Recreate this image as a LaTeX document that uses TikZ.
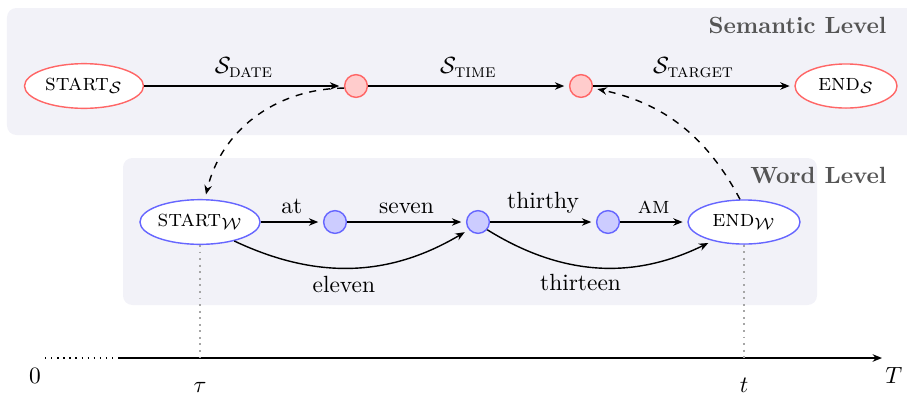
\documentclass[tikz,border=0pt]{standalone}
\usetikzlibrary{arrows.meta,positioning,shapes.geometric}
\definecolor{LevelBg}{HTML}{F2F2F8}
\definecolor{LevelText}{HTML}{555555}
\newcommand{\subsc}[1]{\mbox{\footnotesize\textsc{#1}}}

\begin{document}
\begin{tikzpicture}[
    >={Stealth[length=4pt,width=3.2pt]},
    semstate/.style={ellipse,draw=red!60,fill=white,semithick,minimum height=0.66cm,inner xsep=0pt},
    semnode/.style={circle,draw=red!60,fill=red!20,semithick,minimum size=9.7pt,inner sep=0pt},
    wordstate/.style={ellipse,draw=blue!60,fill=white,semithick,minimum height=0.66cm,inner xsep=0pt},
    wordnode/.style={circle,draw=blue!60,fill=blue!20,semithick,minimum size=9.7pt,inner sep=0pt},
    trans/.style={->,semithick,shorten >=2pt},
    link/.style={->,dashed,semithick,shorten >=2pt},
    levelbox/.style={fill=LevelBg,rounded corners=4pt},
    leveltitle/.style={font=\bfseries,text=LevelText,anchor=east},
    timemark/.style={dotted,gray!70,thick},
    tick/.style={text height=1.5ex,text depth=0pt}
  ]
  \useasboundingbox (0,0) rectangle (13.605,5.88);

  % level backgrounds
  \fill[levelbox] (0.105,3.855) rectangle (14.2,5.76);
  \fill[levelbox] (1.845,1.305) rectangle (12.255,3.51);
  \node[leveltitle] (semtitle) at (13.42,5.505) {Semantic Level};
  \node[leveltitle] (wordtitle) at (13.42,3.255) {Word Level};

  % semantic level
  \node[semstate,minimum width=1.785cm] (ss) at (1.26,4.59) {\textsc{start}$_{\mathcal{S}}$};
  \node[semnode] (s1) at (5.34,4.59) {};
  \node[semnode] (s2) at (8.715,4.59) {};
  \node[semstate,minimum width=1.53cm] (se) at (12.69,4.59) {\textsc{end}$_{\mathcal{S}}$};
  \draw[trans] (ss) -- node[above] {$\mathcal{S}_{\subsc{date}}$} (s1);
  \draw[trans] (s1) -- node[above] {$\mathcal{S}_{\subsc{time}}$} (s2);
  \draw[trans] (s2) -- node[above] {$\mathcal{S}_{\subsc{target}}$} (se);

  % word level
  \node[wordstate,minimum width=1.785cm] (sw) at (3.0,2.55) {\textsc{start}$_{\mathcal{W}}$};
  \node[wordnode] (w1) at (5.025,2.55) {};
  \node[wordnode] (w2) at (7.17,2.55) {};
  \node[wordnode] (w3) at (9.12,2.55) {};
  \node[wordstate,minimum width=1.68cm] (ew) at (11.16,2.55) {\textsc{end}$_{\mathcal{W}}$};
  \draw[trans] (sw) -- node[above] {at} (w1);
  \draw[trans] (w1) -- node[above] {seven} (w2);
  \draw[trans] (w2) -- node[above] {thirthy} (w3);
  \draw[trans] (w3) -- node[above] {\textsc{am}} (ew);
  \draw[trans] (sw.-29) to[bend right=28] node[below,pos=0.46] {eleven} (w2.220);
  \draw[trans] (w2.-40) to[bend right=29] node[below,pos=0.42] {thirteen} (ew.211);

  % links between levels
  \draw[link] (s1.190) to[bend right=38] (sw.78);
  \draw[link] (ew.100) to[bend right=25] (s2.-10);

  % time axis
  \coordinate (t0) at (0.675,0.51);
  \coordinate (t1) at (1.8,0.51);
  \coordinate (t2) at (11.895,0.51);
  \coordinate (tend) at (13.23,0.51);
  \draw[dotted,semithick] (t0) -- (t1);
  \draw[semithick] (t1) -- (t2);
  \draw[->,thick] (t2) -- (tend);
  \coordinate (tau) at (sw.south |- t0);
  \coordinate (tt) at (ew.south |- t0);
  \draw[timemark] (sw.south) -- (tau);
  \draw[timemark] (ew.south) -- (tt);
  \node[tick,below left=0.03cm and -0.06cm of t0] (zero) {0};
  \node[tick,below right=0.03cm and -0.075cm of tend] (tmax) {$T$};
  \node[tick,below=1.6mm of tau] (taulabel) {$\tau$};
  \node[tick,below=1.6mm of tt] (tlabel) {$t$};
\end{tikzpicture}
\end{document}
